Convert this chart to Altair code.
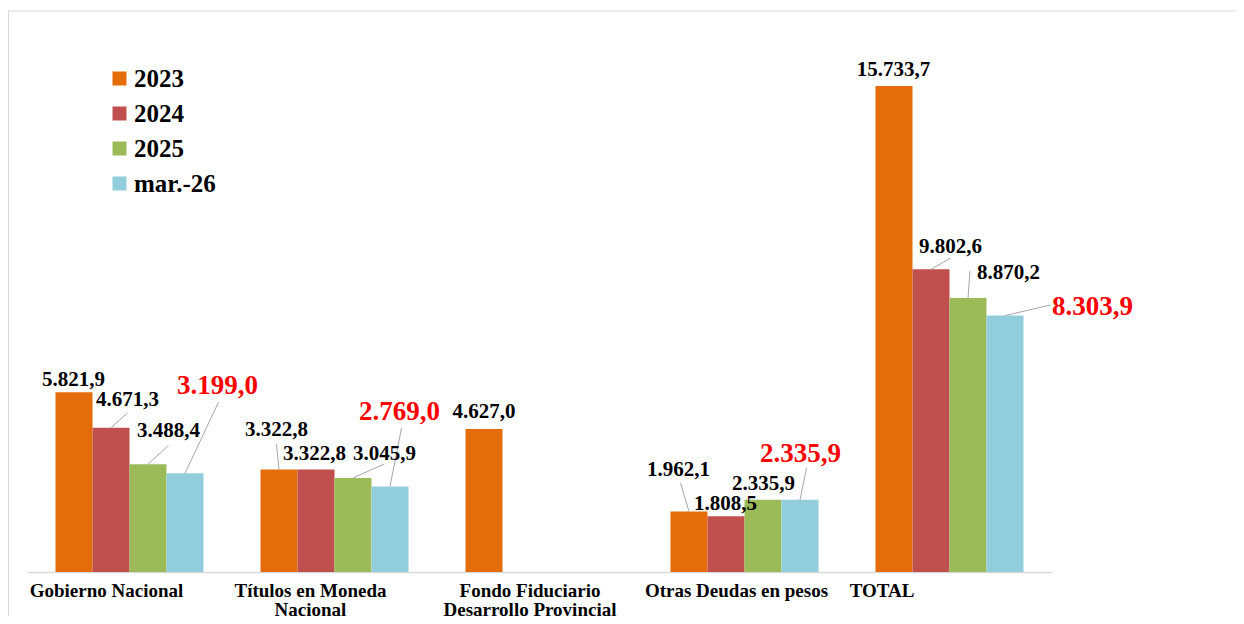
import altair as alt
import pandas as pd

# ---------------- data ----------------
categories = [
    "Gobierno Nacional",
    "Títulos en Moneda Nacional",
    "Fondo Fiduciario Desarrollo Provincial",
    "Otras Deudas en pesos",
    "TOTAL",
]
category_lines = [
    ["Gobierno Nacional"],
    ["Títulos en Moneda", "Nacional"],
    ["Fondo Fiduciario", "Desarrollo Provincial"],
    ["Otras Deudas en pesos"],
    ["TOTAL"],
]
series = ["2023", "2024", "2025", "mar.-26"]
v2023 = [5821.9, 3322.8, 4627.0, 1962.1, 15733.7]
v2024 = [4671.3, 3322.8, None, 1808.5, 9802.6]
v2025 = [3488.4, 3045.9, None, 2335.9, 8870.2]
vmar26 = [3199.0, 2769.0, None, 2335.9, 8303.9]

# ---------------- styling / annotation layout ----------------
colors = ["#E46C0A", "#C0504D", "#9BBB59", "#92CDDC"]
font = "Liberation Serif"

# label offsets in px from the top-centre of each bar
label_dx = [
    [-0.5, -2.5, 0, -10.5, -0.5],
    [16.5, -1.5, 0, -0.5, 19.5],
    [20.5, 31.5, 0, 0.5, 40.5],
    [32.5, 9.5, 0, 0.5, 87.5],
]
label_dy = [
    [-12, -39.4, -17, -41.4, -16],
    [-27.7, -15.4, 0, -12.5, -22.2],
    [-33, -24, 0, -15.5, -25],
    [-87, -74.5, 0, -45.8, -8.5],
]
# leader line ends (px from bar top-centre), None = no leader
leader_end = [
    [None, (-2.5, -25.4), None, (-8.5, -28.4), None],
    [(16.5, -14.7), None, None, None, (19.5, -11.2)],
    [(20.5, -19), (31.5, -14), None, None, (2, -27)],
    [(33.5, -71), (11.5, -58.5), None, (6.5, -31.8), (45.5, -10.5)],
]
# horizontal shift of the category labels from the group centre
category_dx = [-23, -24, -9.5, -8, -67.5]


def fmt(v):
    s = f"{v:,.1f}"
    return s.replace(",", "X").replace(".", ",").replace("X", ".")


rows = []
for si, (s, vals) in enumerate(zip(series, [v2023, v2024, v2025, vmar26])):
    for ci, c in enumerate(categories):
        v = vals[ci]
        if v is None:
            continue
        le = leader_end[si][ci]
        rows.append(
            dict(
                cat=c,
                series=s,
                value=v,
                label=fmt(v),
                dx=label_dx[si][ci],
                dy=label_dy[si][ci],
                leader=le is not None,
                lx=le[0] if le else 0,
                ly=le[1] if le else 0,
            )
        )
df = pd.DataFrame(rows)
df_cat = pd.DataFrame({"cat": categories, "lines": category_lines, "ldx": category_dx})

W, H = 1025, 525

x_enc = alt.X(
    "cat:N",
    sort=categories,
    scale=alt.Scale(paddingInner=0.278, paddingOuter=0.139),
    axis=alt.Axis(labels=False, ticks=False, title=None, domainColor="#d9d9d9", domainWidth=1.5, grid=False),
)
xo_enc = alt.XOffset("series:N", sort=series, scale=alt.Scale(domain=series, paddingInner=0, paddingOuter=0))
y_enc = alt.Y("value:Q", scale=alt.Scale(domain=[0, 17000], nice=False, zero=True), axis=None)

base = alt.Chart(df)

bars = base.mark_bar().encode(
    x=x_enc,
    xOffset=xo_enc,
    y=y_enc,
    color=alt.Color(
        "series:N",
        sort=series,
        scale=alt.Scale(domain=series, range=colors),
        legend=alt.Legend(
            orient="none",
            legendX=80,
            legendY=19,
            title=None,
            symbolType="square",
            symbolSize=196,
            symbolStrokeWidth=0,
            labelFont=font,
            labelFontSize=25,
            labelFontWeight="bold",
            labelColor="black",
            rowPadding=9,
            labelOffset=2,
        ),
    ),
)

bar_x_px = "scale('x', datum.cat) + scale('xOffset', datum.series) + bandwidth('xOffset')/2"
leaders = (
    alt.Chart(df)
    .transform_filter("datum.leader")
    .mark_rule(color="#a6a6a6", strokeWidth=1)
    .encode(
        x=alt.X("cat:N", sort=categories),
        xOffset=alt.XOffset("series:N", sort=series),
        y=alt.Y("value:Q"),
        x2=alt.value(alt.expr(bar_x_px + " + datum.lx")),
        y2=alt.value(alt.expr("scale('y', datum.value) + datum.ly")),
    )
)

labels = base.mark_text(
    font=font,
    fontWeight="bold",
    align="center",
    baseline="middle",
    dx=alt.expr("datum.dx"),
    dy=alt.expr("datum.dy"),
).encode(
    x=alt.X("cat:N", sort=categories),
    xOffset=alt.XOffset("series:N", sort=series),
    y=alt.Y("value:Q"),
    text="label:N",
    color=alt.condition(alt.datum.series == "mar.-26", alt.value("#FF0000"), alt.value("black")),
    size=alt.condition(alt.datum.series == "mar.-26", alt.value(27), alt.value(21)),
)

cat_labels = (
    alt.Chart(df_cat)
    .mark_text(
        font=font,
        fontWeight="bold",
        fontSize=19,
        align="center",
        baseline="top",
        lineHeight=19,
        color="black",
        dx=alt.expr("datum.ldx"),
    )
    .encode(x=alt.X("cat:N", sort=categories), y=alt.value(H + 10), text="lines")
)

one = pd.DataFrame({"a": [0]})
frame_top = alt.Chart(one).mark_rule(color="#d9d9d9", strokeWidth=1.2).encode(
    x=alt.value(-19), x2=alt.value(W + 300), y=alt.value(-36)
)
frame_left = alt.Chart(one).mark_rule(color="#d9d9d9", strokeWidth=1.2).encode(
    x=alt.value(-18.5), y=alt.value(-36), y2=alt.value(H + 200)
)

chart = (
    alt.layer(frame_top, frame_left, bars, leaders, labels, cat_labels)
    .properties(
        width=W,
        height=H,
        autosize=alt.AutoSizeParams(type="none"),
        padding={"left": 19, "top": 39, "right": 184, "bottom": 44},
        background="white",
    )
    .configure_view(stroke=None)
)

chart.save("out.html", embed_options={"renderer": "svg", "actions": False})
